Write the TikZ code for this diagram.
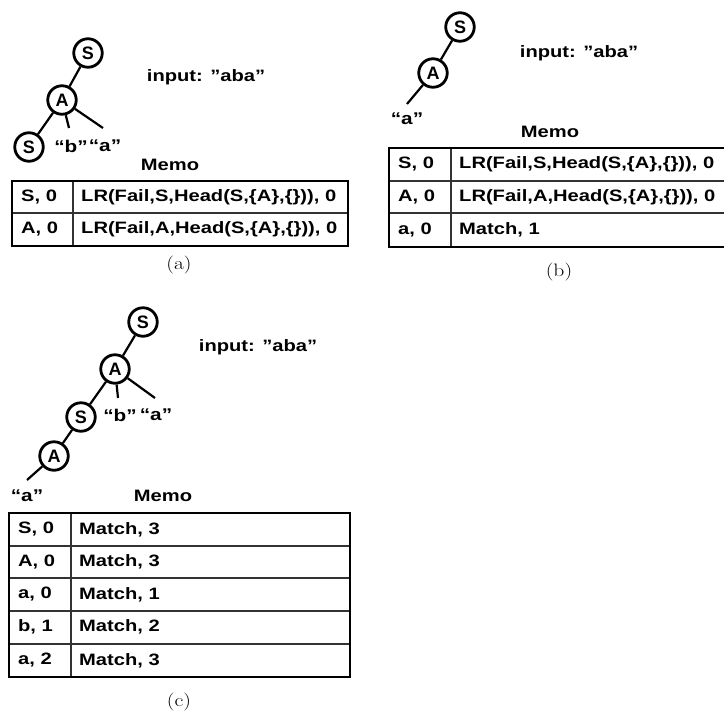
\documentclass[tikz,border=0pt]{standalone}
\usepackage{fontspec}
\setmainfont{Liberation Sans}
\newfontfamily\widefont[FakeStretch=1.22]{Liberation Sans}
\newfontfamily\capfont[FakeStretch=1.2]{Latin Modern Roman}
\usetikzlibrary{positioning}

\tikzset{
  treenode/.style={circle, draw, line width=2.8pt, minimum size=28.5pt, inner sep=0pt,
    font=\fontsize{18}{18}\selectfont\bfseries},
  branch/.style={line width=2.2pt},
  memotext/.style={font=\widefont\fontsize{16.5}{17}\selectfont\bfseries, inner sep=0pt},
  leaftext/.style={font=\widefont\fontsize{17}{17}\selectfont\bfseries, inner sep=0pt},
  celltext/.style={memotext, anchor=west},
  caption/.style={font=\capfont\fontsize{18}{20}\selectfont},
  outerline/.style={line width=2.6pt},
  innerline/.style={line width=1.2pt, black!80},
}

\begin{document}
\begin{tikzpicture}[x=1pt, y=-1pt]
    \useasboundingbox (0,0) rectangle (724,713);
    \clip (0,0) rectangle (724,713);

    % ---------- (a) ----------
    \node[treenode] (aS1) at (88,53) {S};
    \node[treenode] (aA1) at (62,100) {A};
    \node[treenode] (aS2) at (29,147) {S};
    \coordinate (aB) at (69,128);
    \coordinate (aE) at (103,128);
    \draw[branch] (aS1) -- (aA1);
    \draw[branch] (aA1) -- (aS2);
    \draw[branch] (aA1) -- (aB);
    \draw[branch] (aA1) -- (aE);
    \node[leaftext] (ab) at (71,146) {“b”};
    \node[leaftext] (aa) at (105,146) {“a”};
    \node[memotext] (ainput) at (206,77) {input: ”aba”};
    \node[memotext] (amemo) at (170,165) {Memo};

    % memo table
    \draw[innerline] (73,181) -- (73,246);
    \draw[innerline] (12,213) -- (348,213);
    \draw[outerline] (12,181) rectangle (348,246);
    \node[celltext] (ak1) at (21,197) {S, 0};
    \node[celltext] (av1) at (81,197) {LR(Fail,S,Head(S,\{A\},\{\})), 0};
    \node[celltext] (ak2) at (21,229.5) {A, 0};
    \node[celltext] (av2) at (81,229.5) {LR(Fail,A,Head(S,\{A\},\{\})), 0};
    \node[caption] (acap) at (179,265) {(a)};

    % ---------- (b) ----------
    \node[treenode] (bS1) at (460,27) {S};
    \node[treenode] (bA1) at (433,73) {A};
    \coordinate (bE) at (407,104);
    \draw[branch] (bS1) -- (bA1);
    \draw[branch] (bA1) -- (bE);
    \node[leaftext] (ba) at (407,119) {“a”};
    \node[memotext] (binput) at (579,53) {input: ”aba”};
    \node[memotext] (bmemo) at (550,132) {Memo};

    % memo table (runs off the right edge)
    \draw[innerline] (451,148) -- (451,247);
    \draw[innerline] (389,181) -- (740,181);
    \draw[innerline] (389,213) -- (740,213);
    \draw[outerline] (389,148) rectangle (740,247);
    \node[celltext] (bk1) at (398,164.5) {S, 0};
    \node[celltext] (bv1) at (459,164.5) {LR(Fail,S,Head(S,\{A\},\{\})), 0};
    \node[celltext] (bk2) at (398,197) {A, 0};
    \node[celltext] (bv2) at (459,197) {LR(Fail,A,Head(S,\{A\},\{\})), 0};
    \node[celltext] (bk3) at (398,230) {a, 0};
    \node[celltext] (bv3) at (459,230) {Match, 1};
    \node[caption] (bcap) at (559,272) {(b)};

    % ---------- (c) ----------
    \node[treenode] (cS1) at (143,322) {S};
    \node[treenode] (cA1) at (115,369) {A};
    \node[treenode] (cS2) at (81,417) {S};
    \node[treenode] (cA2) at (54,456) {A};
    \coordinate (cB) at (118,398);
    \coordinate (cE) at (155,398);
    \coordinate (cL) at (27,480);
    \draw[branch] (cS1) -- (cA1);
    \draw[branch] (cA1) -- (cS2);
    \draw[branch] (cA1) -- (cB);
    \draw[branch] (cA1) -- (cE);
    \draw[branch] (cS2) -- (cA2);
    \draw[branch] (cA2) -- (cL);
    \node[leaftext] (cb) at (120,415) {“b”};
    \node[leaftext] (ca) at (156,415) {“a”};
    \node[leaftext] (ca2) at (27,496) {“a”};
    \node[memotext] (cinput) at (258,347) {input: ”aba”};
    \node[memotext] (cmemo) at (163,496) {Memo};

    % memo table
    \draw[innerline] (71,513) -- (71,677);
    \draw[innerline] (9,546) -- (350,546);
    \draw[innerline] (9,578) -- (350,578);
    \draw[innerline] (9,611) -- (350,611);
    \draw[innerline] (9,644) -- (350,644);
    \draw[outerline] (9,513) rectangle (350,677);
    \node[celltext] (ck1) at (18,529.5) {S, 0};
    \node[celltext] (cv1) at (79,529.5) {Match, 3};
    \node[celltext] (ck2) at (18,562) {A, 0};
    \node[celltext] (cv2) at (79,562) {Match, 3};
    \node[celltext] (ck3) at (18,594.5) {a, 0};
    \node[celltext] (cv3) at (79,594.5) {Match, 1};
    \node[celltext] (ck4) at (18,627) {b, 1};
    \node[celltext] (cv4) at (79,627) {Match, 2};
    \node[celltext] (ck5) at (18,660.5) {a, 2};
    \node[celltext] (cv5) at (79,660.5) {Match, 3};
    \node[caption] (ccap) at (179,702) {(c)};
\end{tikzpicture}
\end{document}
